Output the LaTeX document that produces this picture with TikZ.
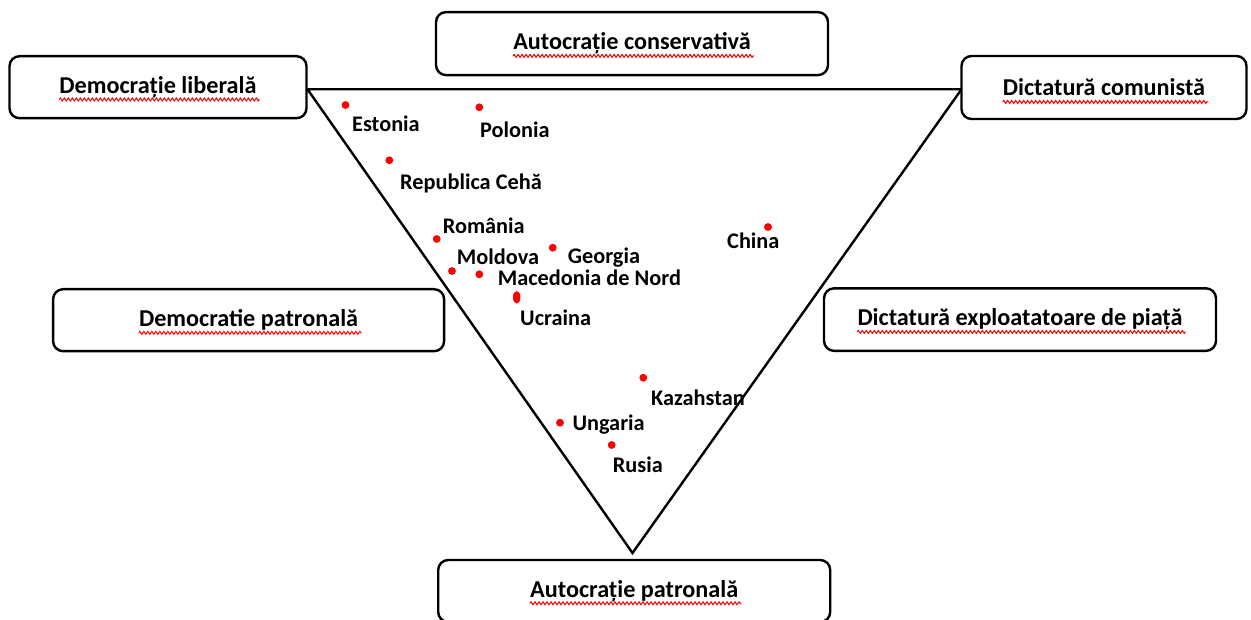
\documentclass[tikz,border=0pt]{standalone}
\usepackage{fontspec}
\setmainfont{Carlito}
\usetikzlibrary{shapes.geometric,decorations.pathmorphing}
\begin{document}
\begin{tikzpicture}[x=1pt,y=-1pt,
  regime/.style={draw=black,line width=2.4pt,rounded corners=10pt,inner sep=0pt,fill=white},
  regimetext/.style={inner sep=0pt,font=\fontsize{24.2}{28}\selectfont\bfseries},
  squig/.style={draw=red,line width=1pt,decorate,decoration={zigzag,amplitude=1.5pt,segment length=4pt}},
  country/.style={inner sep=0pt,anchor=base west,font=\fontsize{22.3}{26}\selectfont\bfseries},
  dot/.style={circle,fill=red,inner sep=0pt,minimum size=7.8pt},
  edge/.style={draw=black,line width=2.4pt,line join=miter}]
\useasboundingbox (0,0) rectangle (1251,620);

% regime-type triangle
\coordinate (tl) at (307.5,89.3);
\coordinate (tr) at (961.5,89.3);
\coordinate (ap) at (632.5,553);
\draw[edge] (tl) -- (tr) -- (ap) -- cycle;

% regime boxes
\node[regime,minimum width=297pt,minimum height=62pt] (b1) at (158,87.2) {};
\node[regime,minimum width=392pt,minimum height=63pt] (b2) at (632,43.6) {};
\node[regime,minimum width=285pt,minimum height=63pt] (b3) at (1104,87.5) {};
\node[regime,minimum width=391pt,minimum height=62pt] (b4) at (248.6,320.2) {};
\node[regime,minimum width=392pt,minimum height=62.5pt] (b5) at (1020,319.6) {};
\node[regime,minimum width=392pt,minimum height=62pt] (b6) at (634.2,591) {};

\node[regimetext] (t1) at (b1) {Democrație liberală};
\node[regimetext] (t2) at (b2) {Autocrație conservativă};
\node[regimetext] (t3) at (b3) {Dictatură comunistă};
\node[regimetext] (t4) at (b4) {Democratie patronală};
\node[regimetext] (t5) at (b5) {Dictatură exploatatoare de piață};
\node[regimetext] (t6) at (b6) {Autocrație patronală};

% spell-check underlines
\foreach \t in {t1,t2,t3,t4,t5,t6}
  \draw[squig] ([yshift=-6pt]\t.base west) -- ([yshift=-6pt,xshift=3pt]\t.base east);

% countries
\node[dot] (d1) at (345.5,105) {};
\node[country] (c1) at (352,132) {Estonia};
\node[dot] (d2) at (479.3,107.3) {};
\node[country] (c2) at (480,138) {Polonia};
\node[dot] (d3) at (389.3,160.3) {};
\node[country] (c3) at (400,190) {Republica Cehă};
\node[dot] (d4) at (436.7,239) {};
\node[country] (c4) at (442.7,234) {România};
\node[dot] (d5) at (452,271) {};
\node[country] (c5) at (456.7,265) {Moldova};
\node[dot] (d6) at (552.7,247.7) {};
\node[country] (c6) at (567.7,264) {Georgia};
\node[dot] (d7) at (479.3,274.3) {};
\node[country] (c7) at (497.7,286) {Macedonia de Nord};
\node[ellipse,fill=red,inner sep=0pt,minimum width=7.5pt,minimum height=12.5pt] (d8) at (516.7,297.3) {};
\node[country] (c8) at (520,326) {Ucraina};
\node[dot] (d9) at (768,227) {};
\node[country] (c9) at (727,249) {China};
\node[dot] (d10) at (643.3,377.7) {};
\node[country] (c10) at (651,405.7) {Kazahstan};
\node[dot] (d11) at (560,422.7) {};
\node[country] (c11) at (572.3,430.7) {Ungaria};
\node[dot] (d12) at (611.7,445) {};
\node[country] (c12) at (612.7,472.7) {Rusia};
\end{tikzpicture}
\end{document}
